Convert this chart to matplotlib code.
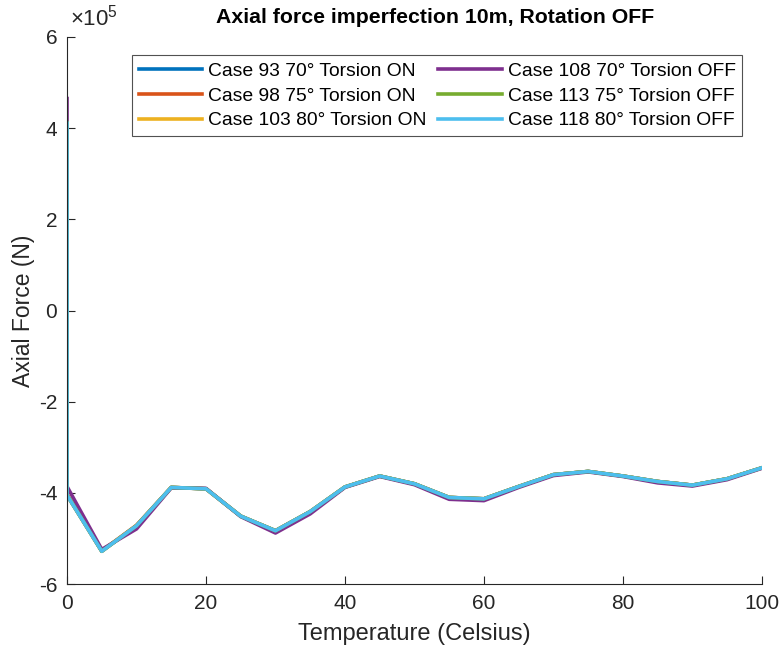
import matplotlib.pyplot as plt
import numpy as np
from matplotlib.ticker import FuncFormatter

plt.rcParams['font.family'] = ['Liberation Sans', 'DejaVu Sans']
plt.rcParams['mathtext.fontset'] = 'custom'
plt.rcParams['mathtext.rm'] = 'Liberation Sans'
plt.rcParams['axes.unicode_minus'] = False

# Temperature steps (Celsius); first two entries are the initial load state at 0
temp = [0, 0, 5, 10, 15, 20, 25, 30, 35, 40, 45, 50, 55, 60, 65, 70, 75, 80, 85, 90, 95, 100]

# Axial force (N), torsion ON cases
case93 = [4.10e5, -4.05e5, -5.28e5, -4.72e5, -3.88e5, -3.91e5, -4.51e5, -4.83e5, -4.41e5, -3.87e5, -3.63e5,
          -3.80e5, -4.10e5, -4.13e5, -3.86e5, -3.60e5, -3.53e5, -3.63e5, -3.75e5, -3.83e5, -3.69e5, -3.45e5]
case98 = [4.12e5, -4.04e5, -5.27e5, -4.71e5, -3.88e5, -3.91e5, -4.51e5, -4.83e5, -4.41e5, -3.87e5, -3.63e5,
          -3.80e5, -4.10e5, -4.13e5, -3.86e5, -3.60e5, -3.53e5, -3.63e5, -3.75e5, -3.83e5, -3.69e5, -3.45e5]
case103 = [4.11e5, -4.05e5, -5.28e5, -4.72e5, -3.88e5, -3.91e5, -4.51e5, -4.83e5, -4.41e5, -3.87e5, -3.63e5,
           -3.80e5, -4.10e5, -4.13e5, -3.86e5, -3.60e5, -3.53e5, -3.63e5, -3.75e5, -3.83e5, -3.69e5, -3.45e5]
# Torsion OFF cases
case108 = [4.65e5, -3.86e5, -5.24e5, -4.79e5, -3.89e5, -3.90e5, -4.52e5, -4.88e5, -4.46e5, -3.88e5, -3.64e5,
           -3.82e5, -4.14e5, -4.17e5, -3.88e5, -3.62e5, -3.54e5, -3.64e5, -3.78e5, -3.85e5, -3.71e5, -3.46e5]
case113 = [4.12e5, -4.04e5, -5.28e5, -4.72e5, -3.88e5, -3.91e5, -4.51e5, -4.83e5, -4.41e5, -3.87e5, -3.63e5,
           -3.80e5, -4.10e5, -4.13e5, -3.86e5, -3.60e5, -3.53e5, -3.63e5, -3.75e5, -3.83e5, -3.69e5, -3.45e5]
case118 = [4.11e5, -4.05e5, -5.28e5, -4.72e5, -3.88e5, -3.91e5, -4.51e5, -4.83e5, -4.41e5, -3.87e5, -3.63e5,
           -3.80e5, -4.10e5, -4.13e5, -3.86e5, -3.60e5, -3.53e5, -3.63e5, -3.75e5, -3.83e5, -3.69e5, -3.45e5]

series = [case93, case98, case103, case108, case113, case118]
labels = ['Case 93 70° Torsion ON', 'Case 98 75° Torsion ON', 'Case 103 80° Torsion ON',
          'Case 108 70° Torsion OFF', 'Case 113 75° Torsion OFF', 'Case 118 80° Torsion OFF']
colors = ['#0072BD', '#D95319', '#EDB120', '#7E2F8E', '#77AC30', '#4DBEEE']

fig = plt.figure(figsize=(7.83, 6.57), dpi=100)
ax = fig.add_axes([0.0856, 0.111, 0.8874, 0.8327])

for vals, lab, col in zip(series, labels, colors):
    ax.plot(temp, vals, color=col, linewidth=2.6, label=lab)

ax.set_xlim(0, 100)
ax.set_ylim(-6e5, 6e5)
ax.set_xticks(np.arange(0, 101, 20))
ax.set_yticks(np.arange(-6e5, 6.1e5, 2e5))
# y ticks shown in units of 1e5 with the exponent above the axis
ax.yaxis.set_major_formatter(FuncFormatter(lambda v, p: f'{v / 1e5:g}'))

grey = '#262626'
ax.text(0.004, 1.012, r'$\mathrm{×10^5}$', transform=ax.transAxes, fontsize=16,
        color=grey, ha='left', va='bottom')

for s in ['top', 'right']:
    ax.spines[s].set_visible(False)
for s in ['left', 'bottom']:
    ax.spines[s].set_color(grey)
    ax.spines[s].set_linewidth(0.8)
ax.tick_params(direction='in', length=6, width=0.8, colors=grey, labelsize=15, pad=7)

ax.set_xlabel('Temperature (Celsius)', fontsize=17, color=grey, labelpad=7)
ax.set_ylabel('Axial Force (N)', fontsize=16.5, color=grey, labelpad=3)
ax.set_title('Axial force imperfection 10m, Rotation OFF', fontsize=15.3, fontweight='bold',
             x=0.53, pad=10)

leg = ax.legend(ncol=2, loc='upper right', bbox_to_anchor=(0.986, 0.984), fontsize=13.9,
                frameon=True, fancybox=False, edgecolor=grey, handlelength=3.3,
                columnspacing=0.6, handletextpad=0.3, labelspacing=0.38, borderpad=0.35)
leg.get_frame().set_linewidth(0.8)

fig.savefig('out.png', dpi=100)
